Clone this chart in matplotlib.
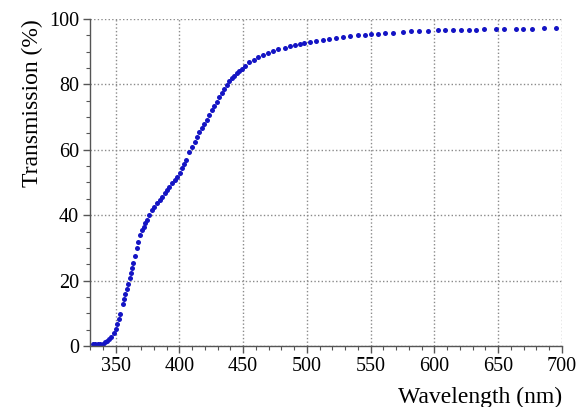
import matplotlib.pyplot as plt
from matplotlib.ticker import MultipleLocator

# Transmission spectrum
wavelength = [332, 334, 336, 338, 340, 341.6, 343.5, 344.8, 346.5, 348.7, 350, 351.3, 352.6, 353.9,
              355.7, 356.8, 357.8, 359, 359.9, 361, 361.9, 363, 364.1, 365.2, 366.5, 367.7, 369.5, 371,
              372.1, 373.5, 374.7, 376, 378.6, 380.5, 382.5, 384.5, 386.5, 388.5, 390.4, 392.3,
              394.3, 396.3, 398.2, 400.2, 402.1, 403.5, 405.2, 407.8, 409.9, 412, 413.8, 415.8, 417.7,
              419.7, 421.6, 423.5, 425.5, 427.5, 429.4, 431.4, 433.4, 435.3, 437.3, 439.3, 441.2,
              443.1, 445.1, 447, 449, 451.6, 454.9, 458.6, 462, 465.9, 469.8, 473.7, 477.6, 482.8,
              486.7, 490.6, 494.5, 497.9, 502.3, 507.5, 512.7, 517.4, 523.2, 528.4, 534.1, 540.1,
              545.3, 550.5, 555.7, 560.9, 567.4, 575.2, 581.8, 588.3, 594.8, 602.6, 608.6, 614.3,
              620.8, 626.8, 632.6, 638.5, 648.2, 654.7, 663.8, 669.5, 676.3, 685.9, 695.5]
transmission = [0.5, 0.5, 0.5, 0.5, 0.6, 1.1, 1.6, 2.0, 2.8, 3.9, 5.2, 6.7, 8.2, 9.7,
                12.8, 14.3, 15.8, 17.5, 19.1, 20.7, 22.2, 23.8, 25.3, 27.6, 30.0, 31.9, 33.9, 35.4,
                36.5, 37.6, 38.5, 40.1, 41.6, 42.6, 43.6, 44.7, 45.7, 46.7, 47.7, 48.7,
                49.7, 50.8, 51.8, 53.0, 54.3, 55.6, 57.0, 59.3, 61.0, 62.5, 64.0, 65.3, 66.6,
                67.9, 69.1, 70.6, 72.2, 73.4, 74.7, 76.0, 77.3, 78.6, 79.8, 80.9, 81.9,
                82.7, 83.4, 84.1, 84.7, 85.6, 86.8, 87.5, 88.3, 89.0, 89.7, 90.3, 90.7, 91.2,
                91.7, 92.0, 92.4, 92.6, 93.1, 93.3, 93.6, 93.8, 94.1, 94.5, 94.8, 95.0,
                95.2, 95.3, 95.5, 95.7, 95.8, 96.0, 96.2, 96.3, 96.3, 96.5, 96.6, 96.6,
                96.6, 96.7, 96.7, 96.8, 96.8, 96.9, 96.9, 96.9, 97.0, 97.1, 97.2]

plt.rcParams['font.family'] = ['Liberation Serif', 'DejaVu Serif']

fig = plt.figure(figsize=(5.78, 4.07), dpi=100)
ax = fig.add_axes([0.1557, 0.150, 0.8166, 0.8033])

ax.plot(wavelength, transmission, 'o', color='#1414c4', markersize=3.6, markeredgewidth=0)

ax.set_xlim(330, 700)
ax.set_ylim(0, 100)
ax.xaxis.set_major_locator(MultipleLocator(50))
ax.xaxis.set_minor_locator(MultipleLocator(10))
ax.yaxis.set_major_locator(MultipleLocator(20))
ax.yaxis.set_minor_locator(MultipleLocator(5))

ax.grid(True, which='major', color='#8a8a8a', linestyle=(0, (1, 1.6)), linewidth=1)
ax.set_axisbelow(True)

for s in ['top', 'right']:
    ax.spines[s].set_visible(False)
for s in ['left', 'bottom']:
    ax.spines[s].set_color('#555555')
    ax.spines[s].set_linewidth(1)

ax.tick_params(which='major', length=5, width=1, color='#555555', labelsize=14.5, pad=3)
ax.tick_params(which='minor', length=3, width=0.8, color='#555555')

ax.set_xlabel('Wavelength (nm)', fontsize=17, loc='right', labelpad=8)
ax.set_ylabel('Transmission (%)', fontsize=17, loc='top', labelpad=4)

fig.savefig('out.png', dpi=100)
